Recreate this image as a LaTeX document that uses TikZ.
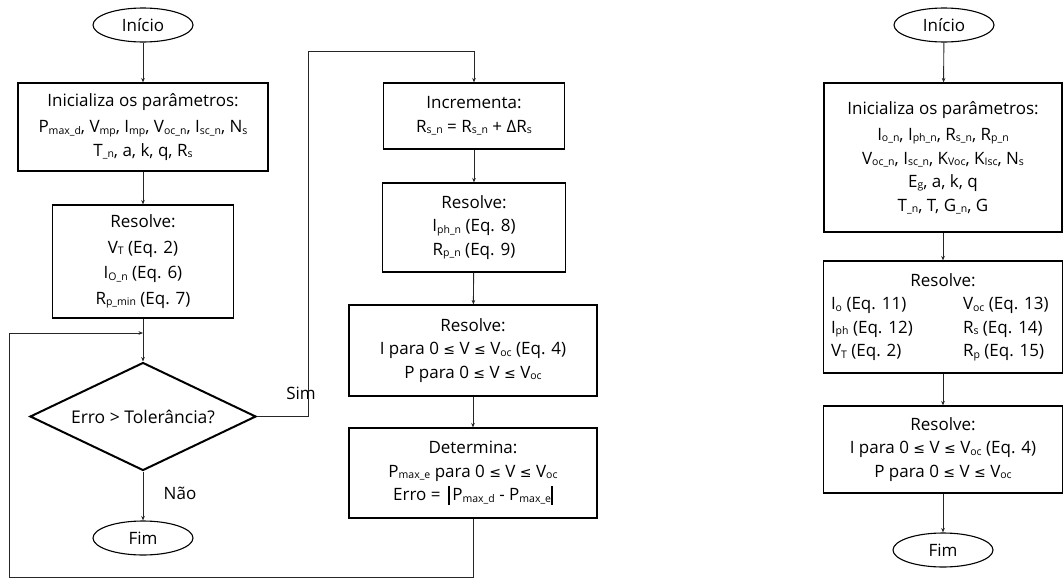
\documentclass[tikz,border=0pt]{standalone}
\usepackage{fontspec}
\setmainfont{Open Sans}
\newfontfamily\symf{DejaVu Sans}
\usetikzlibrary{shapes.geometric,arrows.meta}
\newcommand{\sbx}[1]{\raisebox{-1.4pt}{\fontsize{10.5}{10.5}\selectfont #1}}
\newcommand{\lesym}{{\symf\fontsize{14}{14}\selectfont ≤}}
\newcommand{\absbar}{\rule[-4pt]{1.7pt}{19pt}}
\tikzset{
  box/.style={draw, line width=1.1pt, inner sep=0pt, align=center, font=\fontsize{17}{23.5}\selectfont},
  term/.style={ellipse, draw, line width=1.1pt, minimum width=100pt, minimum height=34pt, inner sep=0pt, font=\fontsize{17}{20}\selectfont},
  dia/.style={diamond, draw, line width=2pt, aspect=2, inner sep=0pt, minimum width=226pt, minimum height=108pt, font=\fontsize{17.5}{20}\selectfont},
  conn/.style={line width=0.9pt, draw=black!85, -{Stealth[length=4.5pt,width=3.6pt]}},
  lbl/.style={font=\fontsize{17}{20}\selectfont, inner sep=0pt}
}
\begin{document}
\begin{tikzpicture}[x=1pt,y=-1pt]
\useasboundingbox (0,0) rectangle (1063,581);
% ---------------- left column
\node[term] (start1) at (143,25) {Início};
\node[box, minimum width=250pt, minimum height=88pt] (init1) at (143,127)
 {Inicializa os parâmetros:\\[3pt]
  P\sbx{max\_d}, V\sbx{mp}, I\sbx{mp}, V\sbx{oc\_n}, I\sbx{sc\_n}, N\sbx{s}\\
  T\sbx{\_n}, a, k, q, R\sbx{s}};
\node[box, minimum width=181pt, minimum height=113pt, font=\fontsize{17}{25.5}\selectfont] (res1) at (143,261.5)
 {Resolve:\\ V\sbx{T} (Eq. 2)\\ I\sbx{O\_n} (Eq. 6)\\ R\sbx{p\_min} (Eq. 7)};
\node[dia] (dec) at (143,416.5) {Erro > Tolerância?};
\node[term] (fim1) at (143,538) {Fim};
\coordinate (join) at (143,333);
% ---------------- middle column
\node[box, minimum width=181pt, minimum height=66pt] (inc) at (474,116)
 {Incrementa:\\ R\sbx{s\_n} = R\sbx{s\_n} + ΔR\sbx{s}};
\node[box, minimum width=183pt, minimum height=89pt] (res2) at (474,227.5)
 {Resolve:\\ I\sbx{ph\_n} (Eq. 8)\\ R\sbx{p\_n} (Eq. 9)};
\node[box, minimum width=248pt, minimum height=91pt] (res3) at (473,350.5)
 {Resolve:\\ I para 0 \lesym{} V \lesym{} V\sbx{oc} (Eq. 4)\\ P para 0 \lesym{} V \lesym{} V\sbx{oc}};
\node[box, minimum width=248pt, minimum height=90pt] (det) at (473,473)
 {Determina:\\ P\sbx{max\_e} para 0 \lesym{} V \lesym{} V\sbx{oc}\\
  Erro =\ \,\absbar\,P\sbx{max\_d} - P\sbx{max\_e}\absbar};
% ---------------- right column
\node[term] (start2) at (944,25) {Início};
\node[box, minimum width=238pt, minimum height=149pt] (init2) at (943,157.5)
 {Inicializa os parâmetros:\\[3pt]
  I\sbx{o\_n}, I\sbx{ph\_n}, R\sbx{s\_n}, R\sbx{p\_n}\\
  V\sbx{oc\_n}, I\sbx{sc\_n}, K\sbx{Voc}, K\sbx{Isc}, N\sbx{s}\\
  E\sbx{g}, a, k, q\\
  T\sbx{\_n}, T, G\sbx{\_n}, G};
\node[box, minimum width=239pt, minimum height=112pt] (res4) at (943,317)
 {Resolve:\\
  \makebox[132pt][l]{I\sbx{o} (Eq. 11)}\makebox[92pt][l]{V\sbx{oc} (Eq. 13)}\\
  \makebox[132pt][l]{I\sbx{ph} (Eq. 12)}\makebox[92pt][l]{R\sbx{s} (Eq. 14)}\\
  \makebox[132pt][l]{V\sbx{T} (Eq. 2)}\makebox[92pt][l]{R\sbx{p} (Eq. 15)}};
\node[box, minimum width=239pt, minimum height=87pt] (res5) at (943,449.5)
 {Resolve:\\ I para 0 \lesym{} V \lesym{} V\sbx{oc} (Eq. 4)\\ P para 0 \lesym{} V \lesym{} V\sbx{oc}};
\node[term] (fim2) at (943,550) {Fim};
% ---------------- labels
\node[lbl] (sim) at (301,393) {Sim};
\node[lbl] (nao) at (180,493) {Não};
% ---------------- connectors
\draw[conn] (start1) -- (init1);
\draw[conn] (init1) -- (res1);
\draw[conn] (res1) -- (dec);
\draw[conn] (dec) -- (fim1);
\coordinate (s1) at (308,51);
\draw[conn] (dec.east) -| (s1) -| (inc.north);
\draw[conn] (inc) -- (res2);
\draw[conn] (res2) -- (res3);
\draw[conn] (res3) -- (det);
\coordinate (l1) at (9,577);
\draw[conn] (det.south) |- (l1) |- (join);
\draw[conn] (start2) -- (init2);
\draw[conn] (init2) -- (res4);
\draw[conn] (res4) -- (res5);
\draw[conn] (res5) -- (fim2);
\end{tikzpicture}
\end{document}
